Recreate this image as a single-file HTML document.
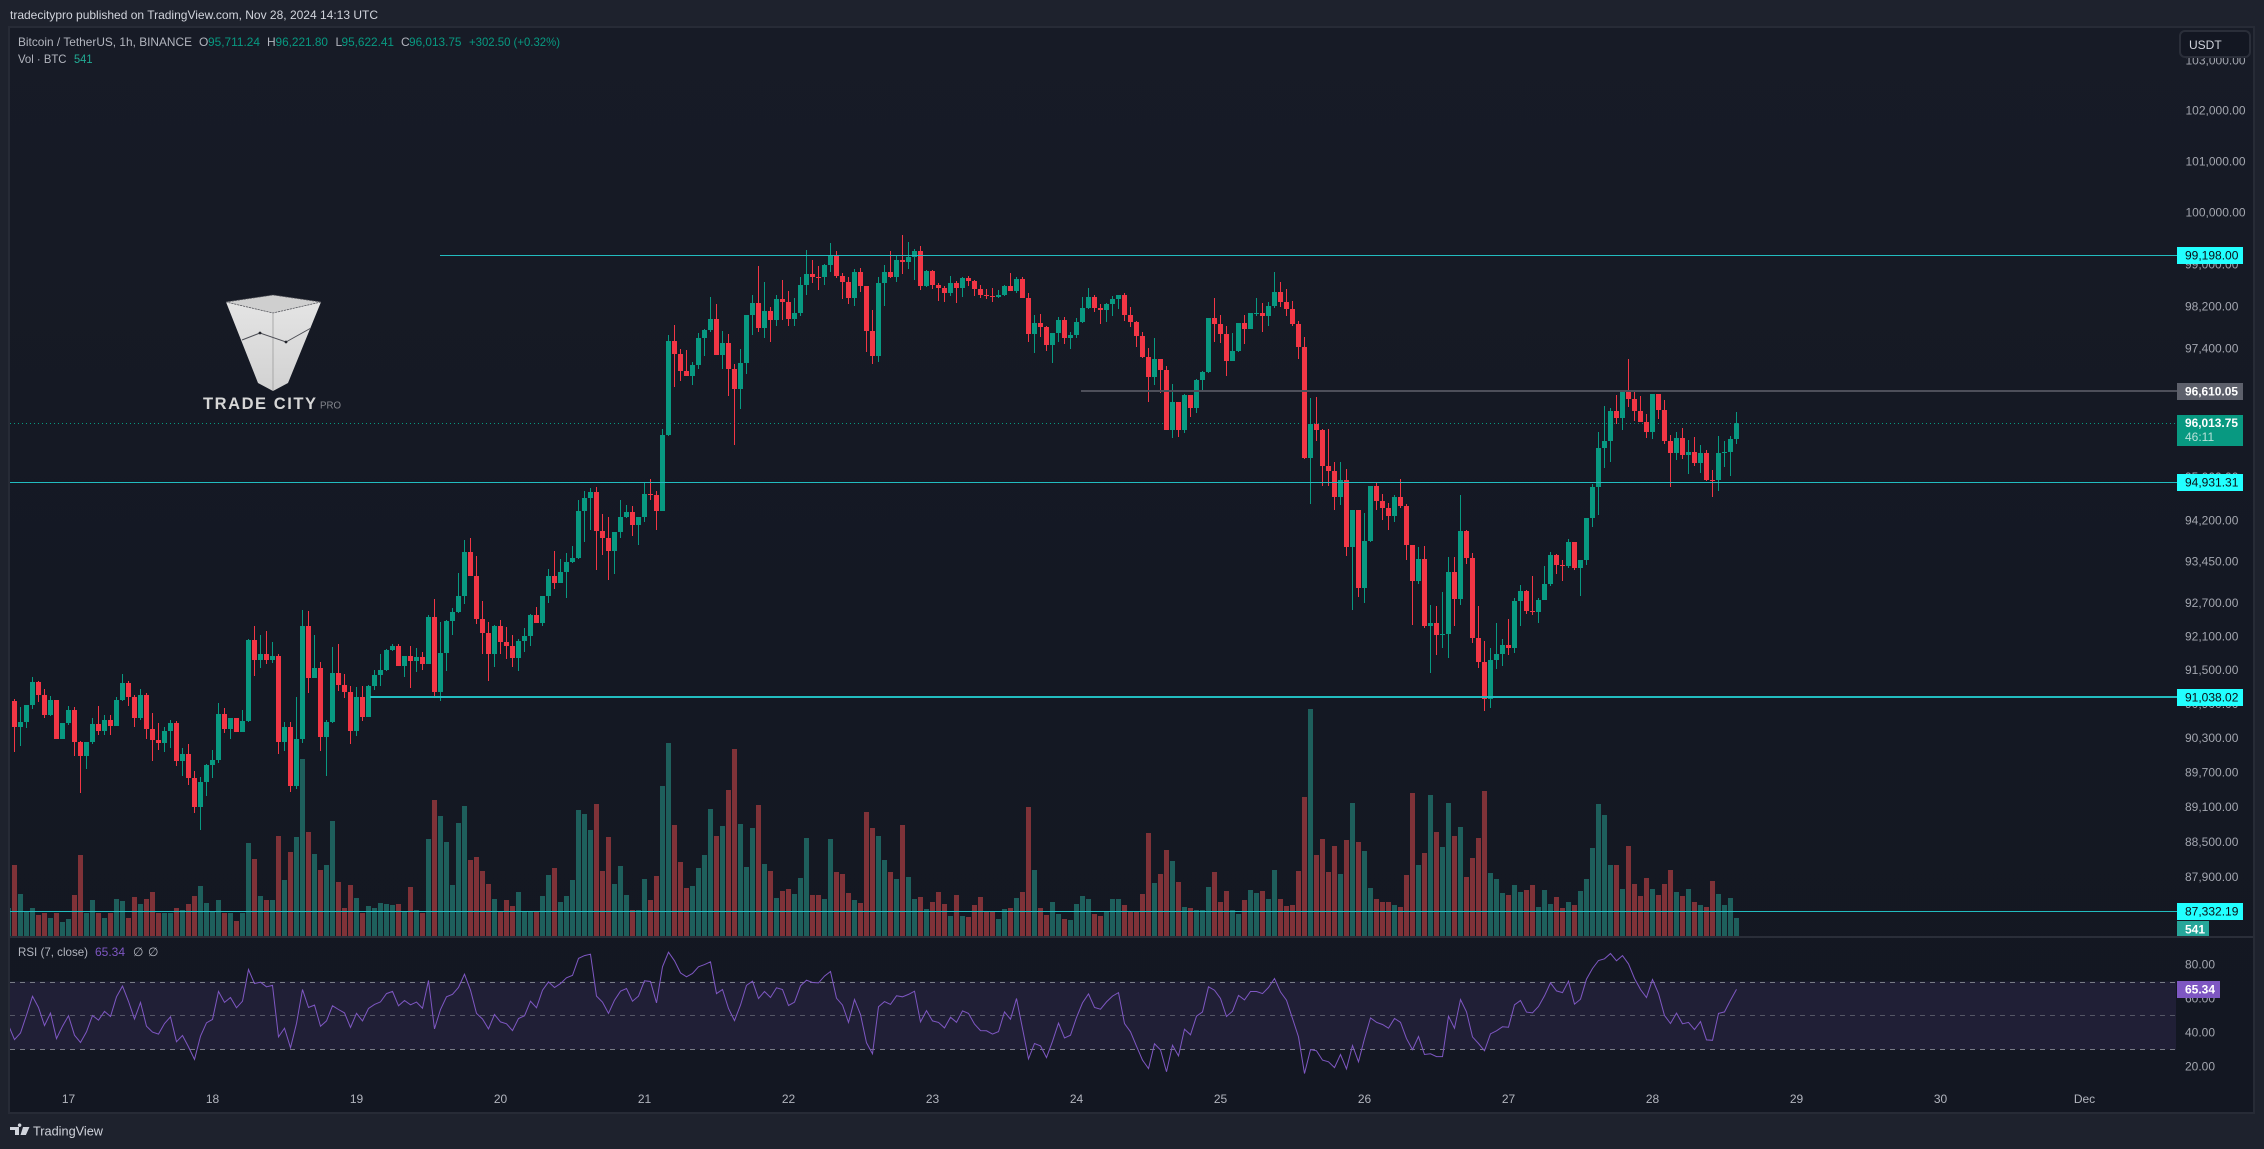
<!DOCTYPE html>
<html lang="en">
<head>
<meta charset="utf-8">
<title>BTC/USDT 1h chart</title>
<style>
html,body{margin:0;padding:0;background:#1e222d;width:2264px;height:1149px;overflow:hidden}
svg{display:block;font-family:"Liberation Sans",Arial,sans-serif}
text{dominant-baseline:central}
</style>
</head>
<body>
<svg id="chart" xmlns="http://www.w3.org/2000/svg" width="2264" height="1149" viewBox="0 0 2264 1149">
  <defs>
    <linearGradient id="paneBg" x1="0" y1="0" x2="0" y2="1">
      <stop offset="0" stop-color="#171b26"/>
      <stop offset="0.55" stop-color="#141823"/>
      <stop offset="1" stop-color="#131722"/>
    </linearGradient>
    <linearGradient id="logoFill" x1="0" y1="0" x2="0" y2="1">
      <stop offset="0" stop-color="#e4e4e4"/>
      <stop offset="1" stop-color="#d2d2d2"/>
    </linearGradient>
    <clipPath id="plotClip"><rect x="10" y="28" width="2167" height="908"/></clipPath>
    <clipPath id="rsiClip"><rect x="10" y="938" width="2167" height="174"/></clipPath>
  </defs>

  <rect x="0" y="0" width="2264" height="1149" fill="#1e222d"/>
  <text x="10" y="15" font-size="12" fill="#d1d4dc" textLength="368" lengthAdjust="spacingAndGlyphs">tradecitypro published on TradingView.com, Nov 28, 2024 14:13 UTC</text>

  <rect x="9" y="27" width="2245" height="1086" fill="url(#paneBg)" stroke="#272b36" stroke-width="2"/>
  <rect x="10" y="936" width="2243" height="2" fill="#2a2e39"/>

  <g id="logo">
    <polygon points="226,302 258,383 273,391 288,383 321,302 273,313" fill="url(#logoFill)"/>
    <polygon points="226,302 273,295 321,302 273,313" fill="#cfcfcf" stroke="#55565c" stroke-width="0.8" stroke-dasharray="2 1"/>
    <line x1="273" y1="313" x2="273" y2="391" stroke="#9c9c9c" stroke-width="0.8"/>
    <polyline points="242,340 260,333 286,342 311,328" fill="none" stroke="#4c4d54" stroke-width="1"/>
    <circle cx="260" cy="333" r="1.4" fill="#23252c"/>
    <circle cx="286" cy="342" r="1.4" fill="#23252c"/>
    <text x="203" y="404" font-size="16.5" font-weight="bold" fill="#d6d6d6" textLength="113" lengthAdjust="spacing">TRADE CITY</text>
    <text x="320" y="406" font-size="10" fill="#85878e" textLength="21" lengthAdjust="spacingAndGlyphs">PRO</text>
  </g>

  <g font-size="12">
    <text x="18" y="42" fill="#b2b5be" textLength="174" lengthAdjust="spacingAndGlyphs">Bitcoin / TetherUS, 1h, BINANCE</text>
    <text x="199" y="42" fill="#b2b5be">O</text>
    <text x="208" y="42" fill="#089981" textLength="52" lengthAdjust="spacingAndGlyphs">95,711.24</text>
    <text x="267" y="42" fill="#b2b5be">H</text>
    <text x="275.5" y="42" fill="#089981" textLength="52.5" lengthAdjust="spacingAndGlyphs">96,221.80</text>
    <text x="335.5" y="42" fill="#b2b5be">L</text>
    <text x="341.5" y="42" fill="#089981" textLength="52.5" lengthAdjust="spacingAndGlyphs">95,622.41</text>
    <text x="401" y="42" fill="#b2b5be">C</text>
    <text x="409" y="42" fill="#089981" textLength="52.5" lengthAdjust="spacingAndGlyphs">96,013.75</text>
    <text x="469" y="42" fill="#089981" textLength="91" lengthAdjust="spacingAndGlyphs">+302.50 (+0.32%)</text>
    <text x="18" y="59" fill="#b2b5be" textLength="48.5" lengthAdjust="spacingAndGlyphs">Vol · BTC</text>
    <text x="74" y="59" fill="#22ab94" textLength="18.5" lengthAdjust="spacingAndGlyphs">541</text>
  </g>

  <g font-size="12">
    <text x="18" y="952" fill="#b2b5be" textLength="70" lengthAdjust="spacingAndGlyphs">RSI (7, close)</text>
    <text x="95" y="952" fill="#7e57c2" textLength="30" lengthAdjust="spacingAndGlyphs">65.34</text>
    <text x="133" y="952" fill="#b2b5be">∅</text>
    <text x="148" y="952" fill="#b2b5be">∅</text>
  </g>

  <g id="priceTicks" font-size="12" fill="#a3a6af"></g>
  <g id="rsiTicks" font-size="12" fill="#a3a6af"></g>
  <g id="timeTicks" font-size="12" fill="#b2b5be"></g>

  <g id="volumes" clip-path="url(#plotClip)" shape-rendering="crispEdges"></g>
  <g id="currentLine"></g>
  <g id="candles" clip-path="url(#plotClip)" shape-rendering="crispEdges"></g>
  <g id="levels" shape-rendering="crispEdges"></g>

  <g id="rsiPane" clip-path="url(#rsiClip)"></g>

  <g id="tags" font-size="12"></g>

  <g>
    <rect x="2180" y="31" width="70" height="26" rx="5" fill="#131722" stroke="#2a2e39" stroke-width="2"/>
    <text x="2189" y="45" font-size="12" fill="#d1d4dc">USDT</text>
  </g>

  <g>
    <path d="M10 1127h9v8h-4v-5h-5zM23 1127h6.5l-3.6 8h-5.4zM19.6 1127a1.8 1.8 0 1 1 .01 0z" fill="#d1d4dc"/>
    <text x="33" y="1131" font-size="13" fill="#d1d4dc" textLength="70" lengthAdjust="spacingAndGlyphs">TradingView</text>
  </g>
</svg>

<script>
// ---------- data ----------
const firstOpen = 90969;
const closes = [
90503,90600,90900,91307,91075,90724,90986,90304,90584,90811,
90250,90005,90250,90567,90444,90636,90532,90986,91289,91040,
90670,91075,90480,90287,90233,90444,90584,89918,90040,89621,
89115,89551,89849,89936,90741,90480,90670,90427,90618,92056,
91699,91806,91699,91770,90250,90514,89481,90304,92306,91378,
91556,90340,90600,91467,91253,91128,90444,91040,90688,91235,
91431,91520,91878,91949,91592,91770,91681,91753,91628,92467,
91128,91824,92395,92556,92840,93644,93207,92431,92181,91806,
92306,92020,91949,91735,92038,92127,92503,92360,92840,93207,
93080,93280,93462,93535,94389,94626,94737,94024,93898,93662,
94006,94280,94370,94134,94280,94700,94680,94389,95791,97556,
97310,96990,96896,97103,97613,97765,97974,97290,97518,97028,
96651,97141,98050,98278,97803,98126,97955,98354,98297,97974,
98088,98622,98833,98776,98770,99006,99198,98795,98680,98373,
98871,98603,97746,97272,98660,98871,98776,99102,99064,99160,
99275,98603,98890,98622,98564,98469,98660,98564,98757,98698,
98545,98430,98420,98392,98430,98603,98507,98737,98373,97689,
97898,97822,97480,97708,97955,97613,97670,97917,98183,98392,
98183,98145,98259,98354,98430,98050,97917,97651,97253,96878,
97216,97009,95884,96407,95884,96538,96295,96820,96971,97993,
97879,97689,97178,97366,97898,97784,98088,98095,98031,98221,
98488,98297,98164,97879,97442,95365,95997,95884,95217,95124,
94645,94958,93731,94407,92987,93840,94848,94571,94443,94297,
94644,94480,93767,93114,93513,92305,92359,92143,92161,93277,
92788,94023,93531,92089,91661,91004,91697,91803,91964,91910,
92752,92933,92573,92555,92770,93060,93585,93404,93386,93822,
93350,93495,94261,94829,95550,95681,96239,96109,96632,96463,
96239,96034,95849,96557,96258,95681,95457,95737,95420,95476,
95273,95457,94958,94950,95457,95476,95718,96013.75];
const highs = [
91004,90870,90900,91390,91330,91180,91057,90986,90584,90881,
90864,90270,90250,90670,90881,90724,90724,91040,91450,91325,
91075,91180,91110,90759,90584,90514,90636,90618,90146,90216,
89744,89639,89866,90111,90933,90846,90670,90670,90811,92074,
92306,92146,92217,92020,91806,90600,90600,91040,92592,92568,
92146,91663,90636,91931,91985,91450,91235,91217,91235,91253,
91520,91806,91896,91985,91985,91770,91949,91913,91842,92503,
92788,92377,92413,92627,93260,93862,93898,93570,92752,92377,
92324,92413,92288,92146,92074,92270,92520,92645,92840,93335,
93662,93516,93626,93753,94589,94756,94811,94830,94334,94280,
94006,94589,94498,94480,94280,94920,94975,94756,95903,97670,
97860,97404,97385,97160,97708,97784,98392,98259,97746,97689,
97122,97404,98050,98430,98988,98685,98202,98430,98718,98507,
98373,98776,99294,99102,98988,99025,99429,99275,98852,98776,
98930,98949,98603,98145,98776,99006,99275,99179,99584,99448,
99314,99371,98910,98910,98660,98603,98795,98698,98776,98795,
98718,98622,98545,98564,98526,98622,98852,98776,98776,98469,
98050,98069,97841,97708,98012,98012,97727,97993,98392,98564,
98430,98259,98278,98411,98430,98469,98202,97936,97727,97423,
97613,97216,97084,96745,96407,96557,96538,96840,96990,97993,
98373,98050,97841,97708,97898,98050,98088,98373,98278,98297,
98871,98680,98545,98316,97936,97632,96482,96500,95903,95903,
95291,95291,95161,94407,94407,94352,94848,94922,94700,94528,
94681,94977,94516,93767,93731,93749,92680,92662,92915,93549,
93549,94681,94041,93622,92662,92036,91910,92359,92072,92430,
92806,93042,92951,93205,92806,93386,93640,93603,93495,93876,
93822,93495,94261,94885,95849,96332,96295,96538,96632,97216,
96594,96519,96184,96557,96557,96444,95793,95849,95923,95700,
95762,95606,95513,95143,95780,95681,95780,96221.80];
const lows = [
90064,90180,90500,90830,90957,90677,90700,90304,90304,90550,
90005,89365,89780,90216,90374,90374,90374,90520,90969,90881,
90514,90636,90304,89918,90111,90076,90146,89831,89656,89498,
89005,88718,89306,89621,89883,90410,90304,90427,90427,90600,
91413,91556,91628,91640,90040,90093,89376,89428,90233,91110,
91378,90093,89656,90584,91146,91015,90216,90357,90618,90688,
91164,91235,91503,91860,91592,91396,91200,91485,91520,91628,
91040,90969,91503,92146,92538,92699,93207,92342,91806,91325,
91574,91806,91717,91574,91503,91842,91937,92360,92306,92716,
92970,93080,92806,93444,93516,93824,94043,93314,93590,93134,
93243,93898,94261,93934,93770,94188,94589,94043,94388,95773,
96689,96800,96896,96726,97028,97272,97727,97290,97028,96519,
95606,96276,96934,97670,97727,97613,97537,97841,97955,97841,
97841,98031,98430,98660,98526,98622,98871,98757,98354,98259,
98221,98488,97347,97122,97160,98221,98757,98680,98833,98930,
98724,98526,98583,98545,98316,98297,98411,98278,98392,98603,
98411,98373,98354,98297,98373,98411,98507,98469,98373,97537,
97329,97632,97366,97141,97537,97499,97404,97613,97898,98164,
98107,97879,97917,98031,98164,97936,97822,97442,97234,96407,
96726,96576,95884,95735,95754,95828,96127,96202,96595,96953,
97537,97518,96896,97178,97347,97499,97784,98031,97727,97841,
98183,98202,98031,97841,97216,95346,94516,95680,94847,94847,
94406,94498,93567,92591,92824,92716,93822,94407,94224,94041,
94188,94443,93495,92323,93060,92269,91466,91785,91910,91732,
92305,92680,93422,91999,91555,90793,90846,91537,91590,91785,
91820,92305,92520,92502,92359,92770,93024,93241,93114,93350,
93314,92842,93404,94096,94315,95181,95291,95997,95885,96314,
96053,96034,95737,95718,96090,95625,94829,95328,95346,95070,
95217,95088,94940,94644,94755,95199,95033,95622.41];
const volumes = [
2130,1260,720,840,630,690,540,690,410,510,
1230,2430,690,1080,690,540,690,1110,1050,540,
1170,960,1110,1320,690,690,690,840,780,960,
1200,1500,990,750,1080,690,690,450,690,2790,
2310,1200,1080,1080,3000,1680,2520,2970,5310,3120,
2460,1980,2130,3450,1620,840,1530,1140,690,900,
840,990,960,930,960,750,1470,780,690,2910,
4080,3600,2820,1530,3390,3900,2280,2370,1950,1560,
1110,750,1080,900,1320,750,750,750,1200,1830,
2040,1020,1200,1680,3780,3660,3180,3960,1950,2970,
1560,2100,1230,780,780,1710,1080,1800,4500,5790,
3330,2220,1440,1500,2040,2430,3810,3000,3300,4380,
5610,3360,2070,3240,3930,2160,1950,1140,1350,1410,
1260,1730,2940,1230,1230,1110,2910,1920,1860,1290,
1080,990,3720,3240,3000,2280,1920,1710,3330,1770,
1110,1170,810,1020,1320,960,600,1230,600,570,
930,1170,750,750,510,810,840,1140,1320,3870,
1980,840,630,1020,660,510,480,960,1200,1110,
660,600,750,1110,1110,930,720,720,1260,3090,
1590,1860,2580,2250,1620,870,840,780,780,1470,
1920,1020,1350,780,660,1080,1380,1290,1350,1110,
1980,1110,900,930,1950,4170,6810,2430,2910,1920,
2700,1860,2880,3990,2820,2550,1440,1110,1020,1020,
930,870,1830,4290,2130,2490,4230,3120,2670,3990,
3000,3270,1770,2340,2940,4350,1890,1710,1290,1230,
1530,1320,1380,1530,870,1380,960,1170,840,1020,
930,1350,1710,2640,3960,3630,2130,2130,1410,2700,
1560,1200,1740,1410,1230,1560,1980,1320,1200,1410,
1020,930,870,1650,1260,930,1140,541];
const rsiValues = [
35.8,39.7,50.2,61.3,54.7,44.1,51.4,36.4,43.7,49.8,
38.4,34.1,40.4,50.0,47.3,52.4,49.4,61.0,67.3,58.3,
47.9,57.7,43.7,40.2,39.0,45.3,49.2,34.5,38.2,31.5,
24.1,37.8,45.7,47.7,64.2,57.7,60.6,54.5,58.4,77.1,
68.8,69.6,66.9,67.7,37.4,42.5,31.0,45.3,65.3,54.7,
56.1,43.7,46.8,55.7,53.5,51.5,42.9,51.2,46.8,54.1,
56.5,58.0,62.9,64.2,55.7,58.8,56.3,57.9,54.3,70.6,
42.1,53.5,61.0,62.5,66.5,74.3,64.9,51.2,47.9,42.1,
50.6,46.2,45.1,41.1,48.2,49.8,58.4,54.5,64.9,69.8,
66.5,68.8,72.2,73.6,83.6,85.3,86.1,61.4,57.8,51.2,
59.0,64.3,65.9,58.4,61.4,70.4,70.0,57.4,78.7,87.3,
82.2,75.1,72.8,74.7,78.7,80.0,81.6,62.9,65.3,54.1,
47.0,56.1,67.7,70.2,60.0,64.1,60.6,66.3,65.3,55.9,
57.8,67.5,70.8,69.4,69.2,73.2,75.9,60.2,56.1,45.9,
59.4,50.6,33.9,27.4,55.1,58.2,56.5,61.6,61.0,62.4,
64.3,46.2,52.9,46.8,45.9,42.7,49.0,46.0,52.7,51.2,
44.9,41.1,41.0,39.0,40.5,52.1,47.8,60.0,42.3,24.4,
33.5,32.1,25.2,34.8,45.5,36.8,38.4,48.8,57.4,62.7,
54.7,53.7,58.0,61.4,63.5,45.3,40.4,31.9,23.7,18.7,
33.3,29.7,16.8,32.5,26.2,41.9,38.6,49.6,52.1,66.9,
64.9,60.0,49.4,52.5,61.8,59.2,64.1,64.1,62.9,66.5,
71.8,63.9,59.0,48.2,37.4,15.8,29.9,29.2,23.7,22.7,
19.3,27.0,18.5,32.3,22.7,36.4,48.6,46.0,44.7,42.5,
48.2,46.0,36.4,29.9,37.6,27.0,27.4,25.8,25.8,49.6,
42.5,59.4,52.1,37.4,33.5,29.2,39.2,41.0,43.3,43.1,
56.3,58.8,52.0,51.5,55.3,61.6,69.2,64.5,63.5,70.2,
56.7,59.6,71.4,77.7,82.4,83.4,86.5,82.2,85.3,80.4,
71.8,65.3,60.6,71.2,62.9,50.0,45.3,51.4,45.1,45.9,
41.7,46.4,35.6,35.4,51.2,52.1,59.0,65.34];
const leadingVolume = 830;
const leadingRsi = 44.3;
const priceTickLabels = [103000,102000,101000,100000,99000,98200,97400,96600,95800,95000,94200,93450,92700,92100,91500,90900,90300,89700,89100,88500,87900,87300];
const rsiTickLabels = [80,60,40,20];
const rsiBands = [70,50,30];
const dayLabels = ['17','18','19','20','21','22','23','24','25','26','27','28','29','30','Dec'];
const dayStartBars = [9,33,57,81,105,129,153,177,201,225,249,273,297,321,345];
const levelPrices = [99198.00,94931.31,91038.02,87332.19];
const levelStartBars = [70.9,-1,59.25,-1];
const levelThickness = [1,1,2,1];
const resistancePrice = 96610.05;
const resistanceStartBar = 177.75;
const currentPrice = 96013.75;
const countdown = '46:11';
const lastVolume = 541;
const lastRsi = 65.34;

// ---------- axes ----------
function xAt(i){ return 14.5 + 6*i; }
function yPrice(p){ return 255 + 5150*Math.log(99198/p); }
function yVolume(v){ return 936 - v/30; }
function yRsi(r){ return 1066.4 - (r-20)*1.6975; }
function fmt(n){ return n.toLocaleString('en-US',{minimumFractionDigits:2,maximumFractionDigits:2}); }

const NS = 'http://www.w3.org/2000/svg';
function mk(parent, tag, attrs){
  const el = document.createElementNS(NS, tag);
  for (const k in attrs) el.setAttribute(k, attrs[k]);
  document.getElementById(parent).appendChild(el);
  return el;
}
const GREEN='#089981', RED='#f23645', VGREEN='#1e5f5c', VRED='#7f3238', CYAN='#22bcbf', TAGCYAN='#22ffff';

// volume bars
{
  const top = Math.round(yVolume(leadingVolume));
  const el = mk('volumes','rect',{x:xAt(-1)-2.5,y:top,width:5,height:936-top,fill:VGREEN});
  
  
}
volumes.forEach(function(v,i){
  const open = i ? closes[i-1] : firstOpen;
  const top = Math.round(yVolume(v));
  const el = mk('volumes','rect',{x:xAt(i)-2.5,y:top,width:5,height:936-top,fill:closes[i]>=open?VGREEN:VRED});
  
  
});

// current price dotted line
{
  const y = Math.round(yPrice(currentPrice));
  const el = mk('currentLine','line',{x1:10,y1:y+0.5,x2:2177,y2:y+0.5,stroke:GREEN,'stroke-width':1,'stroke-dasharray':'1 3'});
  
  
}

// candles
closes.forEach(function(c,i){
  const o = i ? closes[i-1] : firstOpen;
  const col = c>=o ? GREEN : RED;
  const yh = Math.round(yPrice(highs[i])), yl = Math.round(yPrice(lows[i]));
  const wick = mk('candles','rect',{x:xAt(i)-0.5,y:yh,width:1,height:Math.max(1,yl-yh),fill:col});
  
  
  const yo = yPrice(o), yc = yPrice(c);
  const t = Math.round(Math.min(yo,yc)), b = Math.round(Math.max(yo,yc));
  const body = mk('candles','rect',{x:xAt(i)-2.5,y:t,width:5,height:Math.max(1,b-t),fill:col});
  
  
});

// price ticks
priceTickLabels.forEach(function(p){
  const t = mk('priceTicks','text',{x:p>=100000?2185.5:2185,y:yPrice(p)-0.8});
  t.textContent = fmt(p);
  
  
});

// time ticks
dayLabels.forEach(function(d,i){
  const t = mk('timeTicks','text',{x:xAt(dayStartBars[i]),y:1099,'text-anchor':'middle'});
  t.textContent = d;
  
  
});

// horizontal levels with axis tags
levelPrices.forEach(function(p,i){
  const y = Math.round(yPrice(p)+0.3);
  const x0 = levelStartBars[i]<0 ? 10 : xAt(levelStartBars[i]);
  const line = mk('levels','rect',{x:x0,y:y-Math.floor(levelThickness[i]/2),width:2177-x0,height:levelThickness[i],fill:CYAN});
  
  
  const box = mk('tags','rect',{x:2177,y:y-8,width:66,height:17,fill:TAGCYAN});
  
  
  const txt = mk('tags','text',{x:2185,y:y+0.5,fill:'#0b0e14'});
  txt.textContent = fmt(p);
  
  
});

// resistance (grey) level
{
  const y = Math.round(yPrice(resistancePrice));
  const x0 = xAt(resistanceStartBar);
  const line = mk('levels','rect',{x:x0,y:y-1,width:2177-x0,height:2,fill:'#4d4f5a'});
  
  
  const box = mk('tags','rect',{x:2177,y:y-8,width:66,height:17,fill:'#5d606b'});
  
  
  const txt = mk('tags','text',{x:2185,y:y+0.5,fill:'#ffffff','font-weight':'bold',textLength:53,lengthAdjust:'spacingAndGlyphs'});
  txt.textContent = fmt(resistancePrice);
  
  
}

// current price tag
{
  const y = Math.round(yPrice(currentPrice));
  const box = mk('tags','rect',{x:2177,y:y-8,width:66,height:31,fill:GREEN});
  
  
  const txt = mk('tags','text',{x:2185,y:y,fill:'#ffffff','font-weight':'bold',textLength:53,lengthAdjust:'spacingAndGlyphs'});
  txt.textContent = fmt(currentPrice);
  
  
  const cd = mk('tags','text',{x:2185,y:y+14,fill:'#b8e0d8'});
  cd.textContent = countdown;
  
  
}

// volume tag
{
  const box = mk('tags','rect',{x:2177,y:921,width:32,height:15,fill:'#26a69a'});
  
  
  const txt = mk('tags','text',{x:2185,y:929.5,fill:'#ffffff','font-weight':'bold'});
  txt.textContent = String(lastVolume);
  
  
}

// RSI pane
{
  const band = mk('rsiPane','rect',{x:10,y:yRsi(rsiBands[0]),width:2166,height:yRsi(rsiBands[2])-yRsi(rsiBands[0]),fill:'#7e57c2','fill-opacity':0.13});
  
  
  rsiBands.forEach(function(b,i){
    const l = mk('rsiPane','line',{x1:10,x2:2176,y1:Math.round(yRsi(b))+0.5,y2:Math.round(yRsi(b))+0.5,stroke:'#787b86','stroke-opacity':i===1?0.6:1,'stroke-width':1,'stroke-dasharray':'5 5'});
    
    
  });
  const pts = [xAt(-1)+','+yRsi(leadingRsi).toFixed(1)].concat(rsiValues.map(function(r,i){ return xAt(i)+','+yRsi(r).toFixed(1); })).join(' ');
  const line = mk('rsiPane','polyline',{points:pts,fill:'none',stroke:'#7e57c2','stroke-width':1});
  
  
}
rsiTickLabels.forEach(function(r){
  const t = mk('rsiTicks','text',{x:2185,y:yRsi(r)});
  t.textContent = r.toFixed(2);
  
  
});
{
  const y = Math.round(yRsi(lastRsi));
  const box = mk('tags','rect',{x:2177,y:y-8,width:43,height:17,fill:'#7e57c2'});
  
  
  const txt = mk('tags','text',{x:2185,y:y+0.5,fill:'#ffffff','font-weight':'bold'});
  txt.textContent = lastRsi.toFixed(2);
  
  
}
</script>
</body>
</html>
